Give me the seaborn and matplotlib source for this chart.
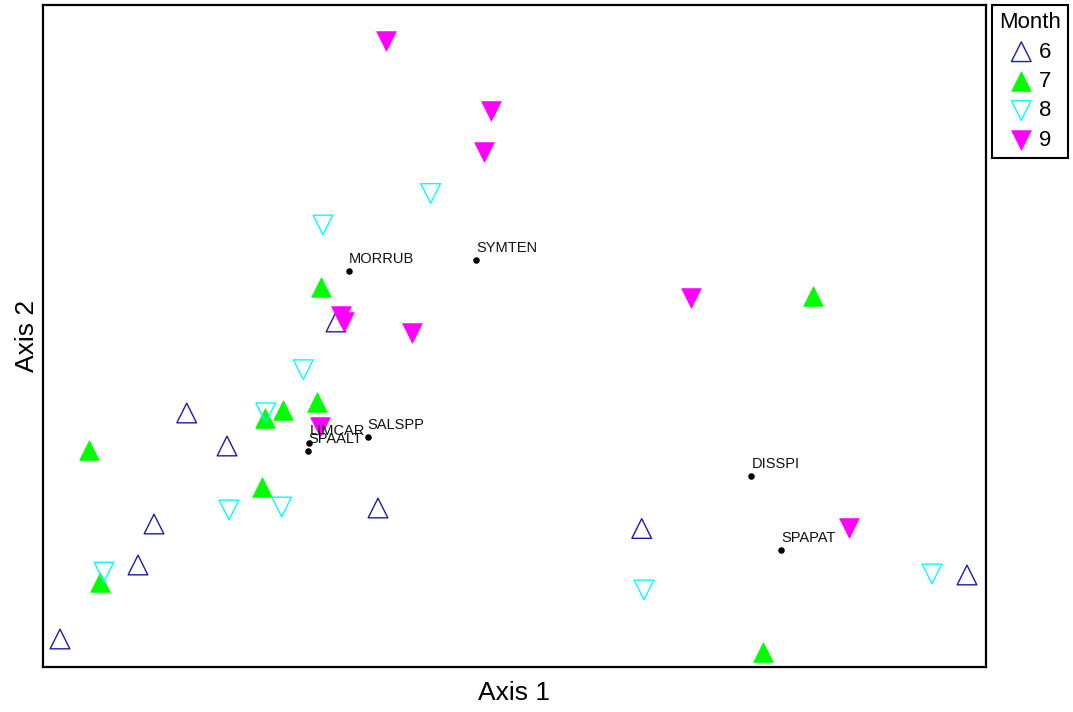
# ordination plot: sample scores by month with species scores

import matplotlib
matplotlib.use("Agg")
import matplotlib.pyplot as plt
import seaborn as sns
import pandas as pd

# sample scores (axis 1, axis 2) by month
m6_ax1 = [186.7, 227, 154, 138, 60, 336, 378, 641.7, 967]
m6_ax2 = [254, 221, 143, 102, 28, 345, 159, 138.5, 92]
m7_ax1 = [89, 100, 261.8, 264.8, 282.8, 317, 321, 813, 763]
m7_ax2 = [217, 85, 180, 249, 257, 265.3, 380, 371.2, 15]
m8_ax1 = [430.7, 323, 303.3, 265.7, 229, 281.7, 104, 644, 932]
m8_ax2 = [473.5, 442, 297.3, 254.2, 157, 160, 95, 77, 93]
m9_ax1 = [386, 490.8, 484, 691, 341, 344, 412, 320, 849]
m9_ax2 = [626.2, 556.3, 515.5, 369.5, 351, 345, 334, 240, 139]

# species scores
species = ["MORRUB", "SYMTEN", "SALSPP", "LIMCAR", "SPAALT", "DISSPI", "SPAPAT"]
sp_ax1 = [349, 476, 367.7, 309.3, 308.3, 751.3, 781.3]
sp_ax2 = [396, 407, 230.3, 224.3, 216.3, 191.3, 117]

months = [6, 7, 8, 9]
month_ax1 = [m6_ax1, m7_ax1, m8_ax1, m9_ax1]
month_ax2 = [m6_ax2, m7_ax2, m8_ax2, m9_ax2]
month_colors = ["#1c1ca6", "#00ff00", "#00ffff", "#ff00ff"]
month_markers = ["^", "^", "v", "v"]
month_filled = [False, True, False, True]

plt.rcParams["font.family"] = ["Liberation Sans", "DejaVu Sans"]

fig = plt.figure(figsize=(10.73, 7.12), dpi=100)
ax = fig.add_axes([43 / 1073, 45 / 712, 943 / 1073, 662 / 712])

for m, xs, ys, c, mk, filled in zip(months, month_ax1, month_ax2,
                                     month_colors, month_markers, month_filled):
    df = pd.DataFrame({"Axis 1": xs, "Axis 2": ys})
    if filled:
        sns.scatterplot(data=df, x="Axis 1", y="Axis 2", ax=ax, marker=mk,
                        s=200, color=c, edgecolor=c, linewidth=0.5,
                        label=str(m), zorder=3)
    else:
        sns.scatterplot(data=df, x="Axis 1", y="Axis 2", ax=ax, marker=mk,
                        s=200, facecolors="none", edgecolor=c, linewidth=1.0,
                        label=str(m), zorder=3)

sp = pd.DataFrame({"name": species, "Axis 1": sp_ax1, "Axis 2": sp_ax2})
sns.scatterplot(data=sp, x="Axis 1", y="Axis 2", ax=ax, color="black",
                s=22, edgecolor="black", linewidth=0, zorder=4)
for _, row in sp.iterrows():
    ax.annotate(row["name"], (row["Axis 1"], row["Axis 2"]),
                xytext=(0, 5.5), textcoords="offset points",
                ha="left", va="baseline", fontsize=10.5, color="#111111",
                zorder=5)

ax.set_xlim(43, 986)
ax.set_ylim(0, 662)
ax.set_xticks([])
ax.set_yticks([])
ax.set_xlabel("Axis 1", fontsize=19, labelpad=10)
ax.set_ylabel("Axis 2", fontsize=19, labelpad=3)
for spine in ax.spines.values():
    spine.set_linewidth(1.6)
    spine.set_color("black")

leg = ax.legend(title="Month", loc="upper left", bbox_to_anchor=(1.006, 1.0),
                borderaxespad=0, fontsize=16, title_fontsize=16,
                frameon=True, fancybox=False, framealpha=1,
                handletextpad=0.2, labelspacing=0.38, borderpad=0.32,
                handlelength=1.2)
leg.get_frame().set_edgecolor("black")
leg.get_frame().set_linewidth(1.5)

fig.savefig("out.png", dpi=100)
